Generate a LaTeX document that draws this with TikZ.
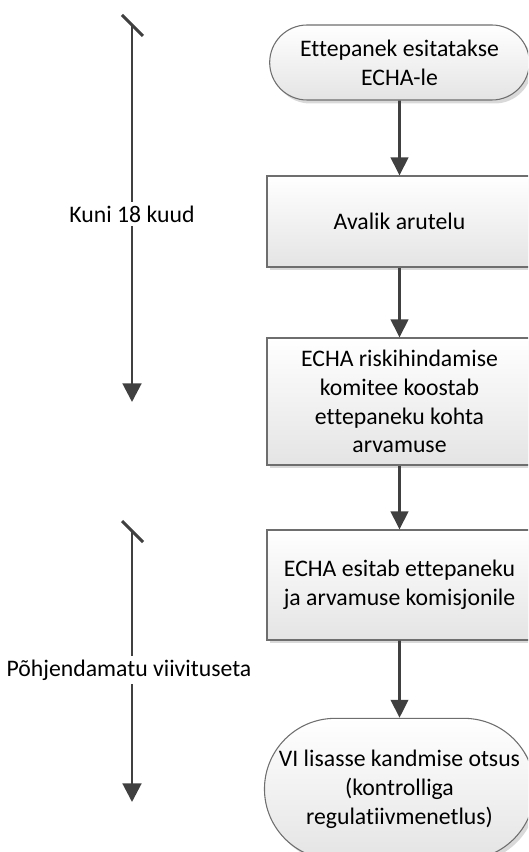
\documentclass[tikz,border=0pt]{standalone}
\usepackage{fontspec}
\setmainfont{Carlito}[Ligatures={NoCommon}]
\usetikzlibrary{arrows.meta,shapes.misc,shadows}
\definecolor{linec}{HTML}{404040}
\definecolor{boxline}{HTML}{6E6E6E}
\definecolor{boxbot}{HTML}{E4E4E4}
\tikzset{
  flowbox/.style={draw=boxline, line width=0.8pt, top color=white, bottom color=boxbot,
    minimum width=198.75pt, align=center, inner sep=2pt,
    font=\fontsize{17.8}{21.6}\selectfont,
    drop shadow={shadow xshift=2.2pt, shadow yshift=-2.6pt, fill=black, opacity=0.15}},
  termbox/.style={flowbox, rounded rectangle, rounded rectangle arc length=180},
  flowarrow/.style={draw=linec, line width=2.2pt, -{Triangle[width=13pt,length=13.5pt]}},
  timearrow/.style={draw=linec, line width=2.2pt, -{Triangle[width=14pt,length=14pt]}},
  tickline/.style={draw=linec, line width=2.2pt},
  timelabel/.style={fill=white, inner xsep=1pt, inner ysep=3pt, font=\fontsize{17.8}{21.6}\selectfont}
}
\begin{document}
\begin{tikzpicture}[x=0.75pt,y=-0.75pt]
\useasboundingbox (0,0) rectangle (528,852);
\clip (0,0) rectangle (528,852);
% flow boxes
\node[termbox, minimum height=56.25pt] (b1) at (399.5,62.5) {Ettepanek esitatakse\\ECHA-le};
\node[flowbox, minimum height=68.25pt] (b2) at (399.5,221.5) {Avalik arutelu};
\node[flowbox, minimum height=95.25pt] (b3) at (399.5,401.5) {ECHA riskihindamise\\komitee koostab\\ettepaneku kohta\\arvamuse};
\node[flowbox, minimum height=82.5pt] (b4) at (399.5,585) {ECHA esitab ettepaneku\\ja arvamuse komisjonile};
\node[termbox, minimum height=106pt] (b5) at (399.5,789) {VI lisasse kandmise otsus\\(kontrolliga\\regulatiivmenetlus)};
% connectors
\draw[flowarrow] (b1) -- (b2);
\draw[flowarrow] (b2) -- (b3);
\draw[flowarrow] (b3) -- (b4);
\draw[flowarrow] (b4) -- (b5);
% time arrows
\coordinate (s1) at (132,25);
\coordinate (e1) at (132,402);
\coordinate (ta1) at (122,15);
\coordinate (tb1) at (143,36);
\draw[timearrow] (s1) -- (e1);
\draw[tickline] (ta1) -- (tb1);
\node[timelabel] (l1) at (132,214) {Kuni 18 kuud};
\coordinate (s2) at (132,531);
\coordinate (e2) at (132,802);
\coordinate (ta2) at (122,521);
\coordinate (tb2) at (143,542);
\draw[timearrow] (s2) -- (e2);
\draw[tickline] (ta2) -- (tb2);
\node[timelabel] (l2) at (129,670) {Põhjendamatu viivituseta};
\end{tikzpicture}
\end{document}
